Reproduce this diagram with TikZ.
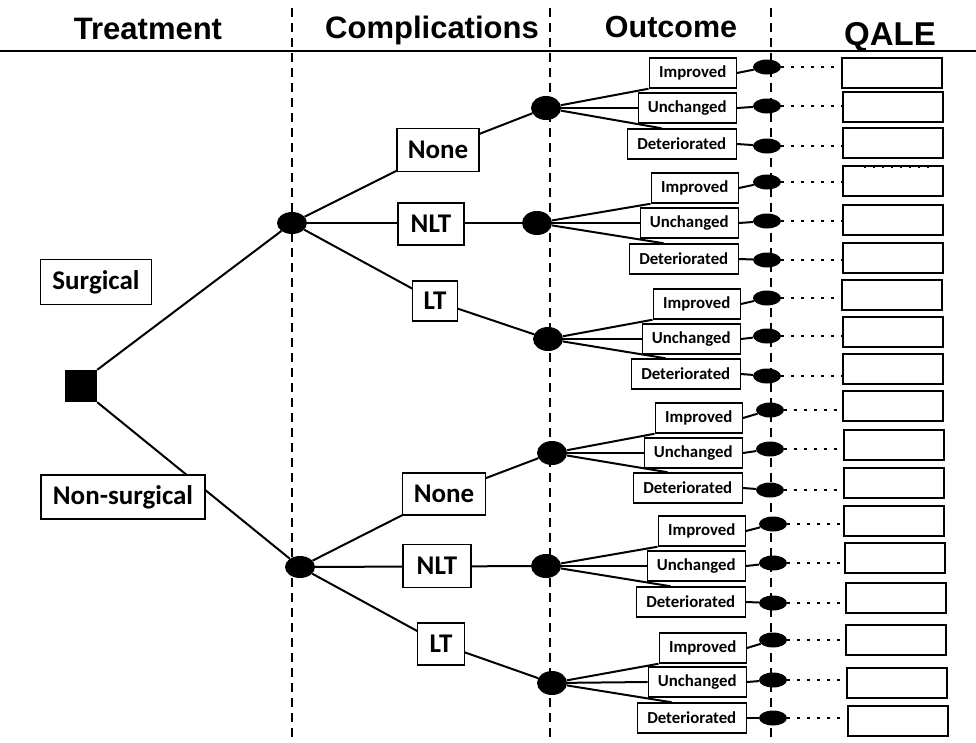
\documentclass[tikz,border=0pt]{standalone}
\usepackage{fontspec}
\setmainfont{Carlito}
\newfontfamily\headfont{Liberation Sans}
\usetikzlibrary{shapes.geometric,calc}
\pgfdeclarelayer{back}
\pgfsetlayers{back,main}

\tikzset{
  head/.style={anchor=base,inner sep=0pt,font=\headfont\bfseries\fontsize{#1}{#1}\selectfont},
  box/.style={draw,line width=1.5pt,fill=white,inner sep=0pt,minimum height=30pt,font=\bfseries\fontsize{16.8}{18}\selectfont},
  bigbox/.style={draw,line width=1.5pt,fill=white,inner sep=0pt,font=\bfseries\fontsize{27}{30}\selectfont},
  chance/.style={ellipse,fill=black,inner sep=0pt,minimum width=30pt,minimum height=22pt},
  leaf/.style={ellipse,fill=black,inner sep=0pt,minimum width=28pt,minimum height=15pt},
  qale/.style={draw,line width=1.5pt,minimum width=100pt,minimum height=30pt,inner sep=0pt},
  branch/.style={line width=2pt},
  sep/.style={line width=1.5pt,dash pattern=on 9pt off 6pt},
  dots/.style={line width=2.5pt,dash pattern=on 2.5pt off 7.5pt}
}

\begin{document}
\begin{tikzpicture}[x=1pt,y=-1pt]
\useasboundingbox (0,0) rectangle (976,742);

% Column headings
\node[head=31] (hTreat) at (148,39) {Treatment};
\node[head=31] (hComp) at (432,38) {Complications};
\node[head=30.5] (hOut) at (671,37) {Outcome};
\node[head=33] (hQale) at (890,45) {QALE};
\draw[line width=2.5pt] (0,51) -- (976,51);
\begin{pgfonlayer}{back}
\foreach \x in {292,550,771} \draw[sep] (\x,8) -- (\x,742);
\end{pgfonlayer}

% Treatment decision
\node[fill=black,minimum size=32pt,inner sep=0pt] (dec) at (81,386) {};
\node[bigbox,minimum width=111pt,minimum height=45pt] (surg) at (96,282) {Surgical};
\node[bigbox,minimum width=164pt,minimum height=44pt] (nonsurg) at (123,497) {Non-surgical};

% Complications
\node[chance] (c1) at (292,223) {};
\node[chance] (c2) at (300,567) {};
\node[bigbox,minimum width=82pt,minimum height=43pt] (none1) at (438,150) {None};
\node[bigbox,minimum width=66pt,minimum height=42pt] (nlt1) at (431,224) {NLT};
\node[bigbox,minimum width=45pt,minimum height=40pt] (lt1) at (435,301) {LT};
\node[bigbox,minimum width=83pt,minimum height=42pt] (none2) at (444,494) {None};
\node[bigbox,minimum width=68pt,minimum height=43pt] (nlt2) at (437,566) {NLT};
\node[bigbox,minimum width=47pt,minimum height=42pt] (lt2) at (441,644) {LT};

% Outcome chance nodes
\foreach \g/\x/\y in {1/546/108, 2/537/223, 3/548/339, 4/552/453, 5/546/566, 6/552/683}
  \node[chance,minimum height=24pt] (o\g) at (\x,\y) {};

\begin{pgfonlayer}{back}
\draw[branch] (dec.north east) -- (c1);
\draw[branch] (dec.south east) -- (c2);
\draw[branch] (c1) -- (none1.center) -- (o1);
\draw[branch] (c1) -- (o2);
\draw[branch] (c1) -- (lt1.center) -- (o3);
\draw[branch] (c2) -- (none2.center) -- (o4);
\draw[branch] (c2) -- (o5);
\draw[branch] (c2) -- (lt2.center) -- (o6);
\end{pgfonlayer}

% Outcome boxes
\foreach \g/\rx/\yi/\yu/\yd in {1/737/73/108/144, 2/739/188/223/259, 3/741/304/339/374,
    4/743/418/453/488, 5/746/531/566/602, 6/747/648/682/718} {
  \node[box,minimum width=87pt,anchor=east] (imp\g) at (\rx,\yi) {Improved};
  \node[box,minimum width=98pt,anchor=east] (unc\g) at (\rx,\yu) {Unchanged};
  \node[box,minimum width=109pt,anchor=east] (det\g) at (\rx,\yd) {Deteriorated};
  \begin{pgfonlayer}{back}
  \draw[branch] (o\g) -- (imp\g.south west);
  \draw[branch] (o\g) -- (unc\g.west);
  \draw[branch] (o\g) -- ($(det\g.north west)+(35,0)$);
  \end{pgfonlayer}
}

% QALE leaves
\foreach \r/\b/\lx/\ly/\qx/\qy in {1/imp1/767/67/892/73, 2/unc1/767/106/893/107, 3/det1/767/146/893/143,
    4/imp2/767/182/893/181, 5/unc2/767/221/893/220, 6/det2/767/260/893/258,
    7/imp3/767/298/892/295, 8/unc3/767/336/893/332, 9/det3/767/376/893/369,
    10/imp4/770/410/893/406, 11/unc4/770/449/894/445, 12/det4/770/490/894/483,
    13/imp5/773/524/894/521, 14/unc5/773/563/895/558, 15/det5/773/603/896/598,
    16/imp6/773/640/896/640, 17/unc6/773/680/897/683, 18/det6/773/718/898/721} {
  \node[leaf] (l\r) at (\lx,\ly) {};
  \node[qale] (q\r) at (\qx,\qy) {};
  \begin{pgfonlayer}{back}
  \draw[branch] (\b.east) -- (l\r);
  \end{pgfonlayer}
  \draw[dots] (l\r.east) -- (q\r.west |- l\r);
}
\draw[line width=1.2pt,dash pattern=on 2pt off 7pt] ($(q4.north west)+(22,2)$) -- ($(q4.north east)+(-8,2)$);
\end{tikzpicture}
\end{document}
